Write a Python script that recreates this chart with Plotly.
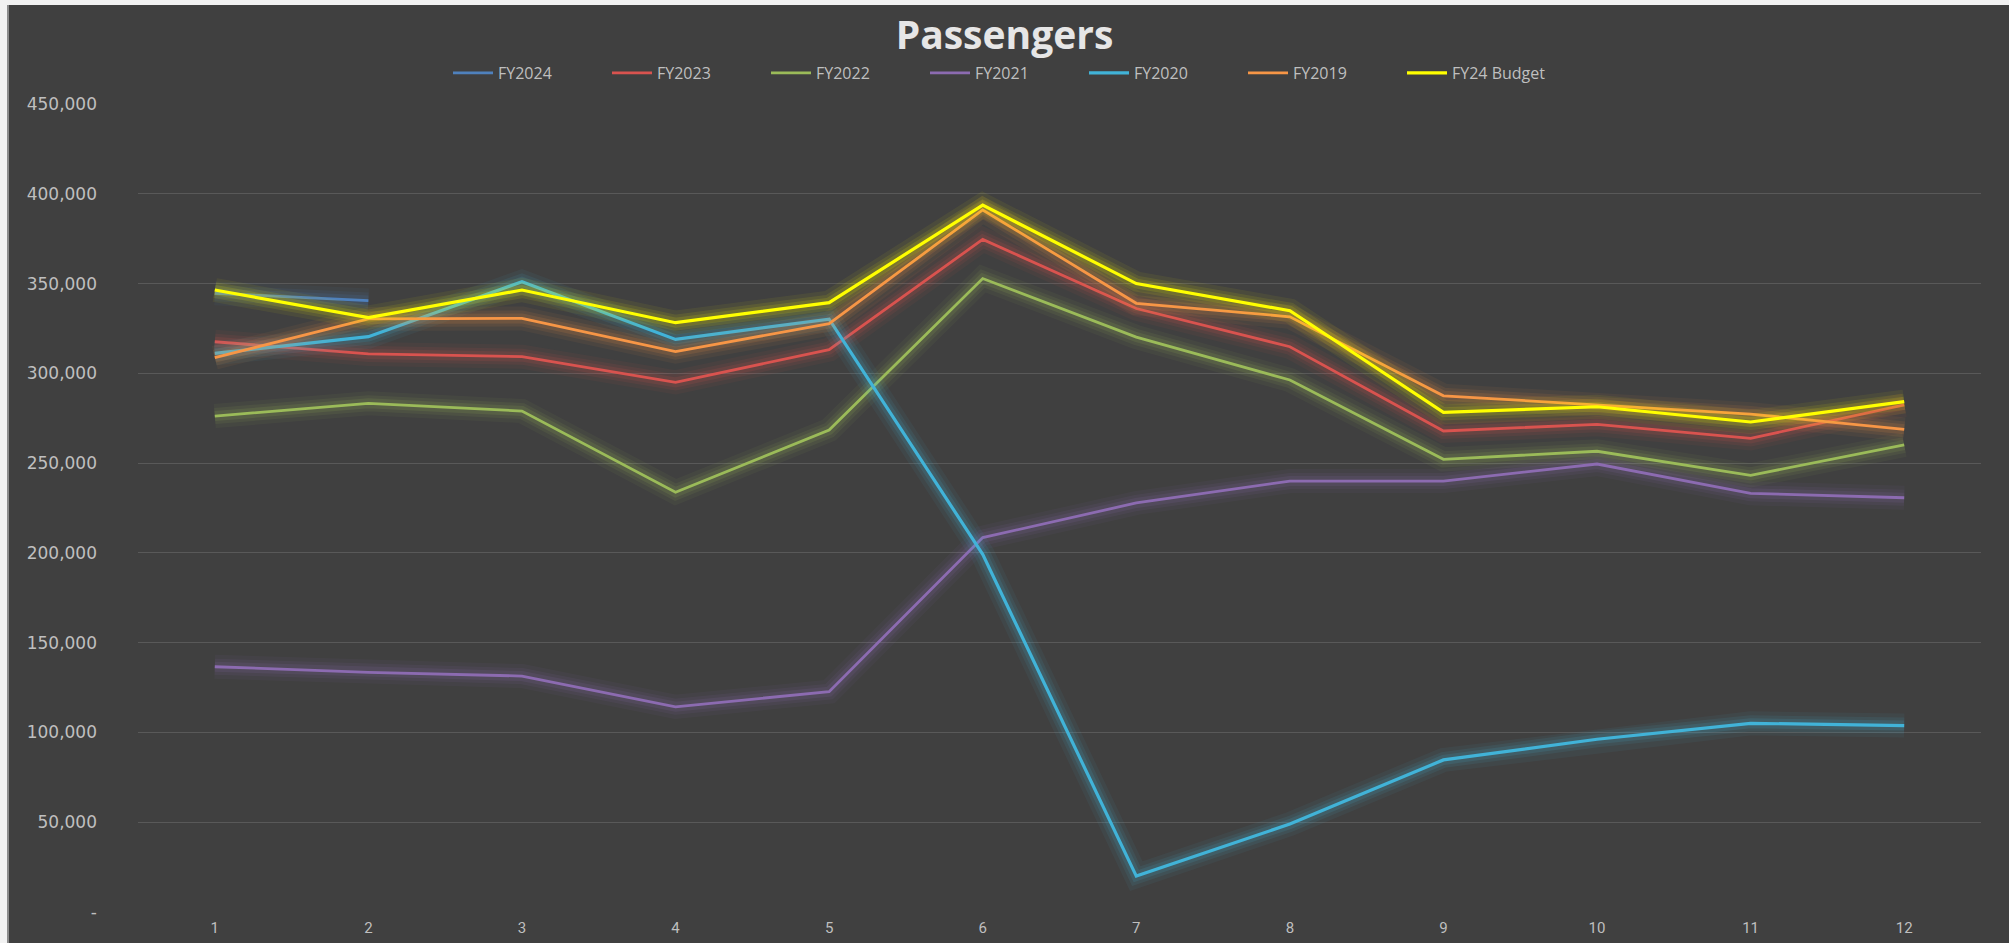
import plotly.graph_objects as go

# Monthly passenger counts by fiscal year
months = list(range(1, 13))
month_labels = [str(m) for m in months]

fy2024 = [344600, 340500, None, None, None, None, None, None, None, None, None, None]
fy2023 = [317600, 310800, 309300, 295000, 313200, 374600, 336100, 314800, 267900, 271600, 263800, 282400]
fy2022 = [276200, 283300, 279000, 233800, 268400, 352800, 320200, 296300, 252100, 256600, 243200, 260100]
fy2021 = [136600, 133500, 131400, 114300, 122700, 208500, 227800, 240000, 240000, 249500, 233200, 230700]
fy2020 = [311100, 320400, 351000, 318900, 330200, 199200, 20000, 49000, 84700, 96200, 105100, 103800]
fy2019 = [308700, 330300, 330600, 312100, 327700, 391000, 339000, 331500, 287500, 282400, 277300, 268800]
fy24_budget = [346400, 331000, 346400, 328200, 339400, 393700, 350000, 334900, 278300, 281400, 272900, 284200]

y_ticks = [0, 50000, 100000, 150000, 200000, 250000, 300000, 350000, 400000, 450000]
y_tick_text = ["-", "50,000", "100,000", "150,000", "200,000", "250,000",
               "300,000", "350,000", "400,000", "450,000"]

series = [
    ("FY2024", fy2024, "#4F81BD", 2.8),
    ("FY2023", fy2023, "#D9534F", 2.8),
    ("FY2022", fy2022, "#9BBB59", 2.8),
    ("FY2021", fy2021, "#8C6BB1", 2.8),
    ("FY2020", fy2020, "#41B3D8", 3.2),
    ("FY2019", fy2019, "#F79646", 2.8),
    ("FY24 Budget", fy24_budget, "#FFFF00", 3.2),
]

BG = "#404040"
GRID = "#595959"
TEXT = "#BFBFBF"

# layered halo widths/opacities for the soft glow behind each line
glow_layers = [(24, 0.06), (16, 0.09), (10, 0.13)]

fig = go.Figure()

for name, values, color, width in series:
    for gw, go_op in glow_layers:
        fig.add_trace(go.Scatter(
            x=months, y=values, mode="lines",
            line=dict(color=color, width=gw),
            opacity=go_op, showlegend=False, hoverinfo="skip",
        ))
    fig.add_trace(go.Scatter(
        x=months, y=values, mode="lines", name=name,
        line=dict(color=color, width=width),
    ))

fig.update_layout(
    width=2009, height=943,
    paper_bgcolor=BG, plot_bgcolor=BG,
    margin=dict(l=138, r=28, t=104, b=31, autoexpand=False),
    title=dict(
        text="<b>Passengers</b>",
        x=0.5, xref="container", xanchor="center",
        y=1 - 35 / 943, yref="container", yanchor="middle",
        font=dict(family="Open Sans", size=39, color="#E6E6E6"),
    ),
    legend=dict(
        orientation="h",
        x=0.5, xref="container", xanchor="center",
        y=1 - 73 / 943, yref="container", yanchor="middle",
        font=dict(family="Open Sans", size=16, color=TEXT),
        bgcolor="rgba(0,0,0,0)",
        entrywidth=104, entrywidthmode="pixels",
        itemwidth=40,
    ),
    xaxis=dict(
        range=[0.5, 12.5],
        tickmode="array", tickvals=months, ticktext=month_labels,
        showgrid=False, zeroline=False, showline=False,
        tickfont=dict(family="Roboto", size=15, color=TEXT),
        ticks="", ticklabelstandoff=5,
    ),
    yaxis=dict(
        range=[0, 450000],
        tickmode="array", tickvals=y_ticks, ticktext=y_tick_text,
        showgrid=True, gridcolor=GRID, gridwidth=1,
        zeroline=False, showline=False,
        tickfont=dict(family="DejaVu Sans", size=17, color=TEXT),
        ticks="", ticklabelstandoff=40,
    ),
    showlegend=True,
)

# light frame along the top and left edges of the chart area
px_w, px_h = 1843, 808
fig.add_shape(type="rect", xref="paper", yref="paper",
              x0=-138 / px_w - 0.01, x1=1.1, y0=1 + 99 / px_h, y1=1 + 104 / px_h + 0.01,
              fillcolor="#F2F2F2", line=dict(width=0), layer="above")
fig.add_shape(type="rect", xref="paper", yref="paper",
              x0=-138 / px_w - 0.01, x1=-131 / px_w, y0=-31 / px_h - 0.01, y1=1 + 104 / px_h + 0.01,
              fillcolor="#F2F2F2", line=dict(width=0), layer="above")
fig.add_shape(type="rect", xref="paper", yref="paper",
              x0=-131 / px_w, x1=-129 / px_w, y0=-31 / px_h - 0.01, y1=1 + 99 / px_h,
              fillcolor="#8C8C8C", line=dict(width=0), layer="above")

fig.write_html("out.html")
